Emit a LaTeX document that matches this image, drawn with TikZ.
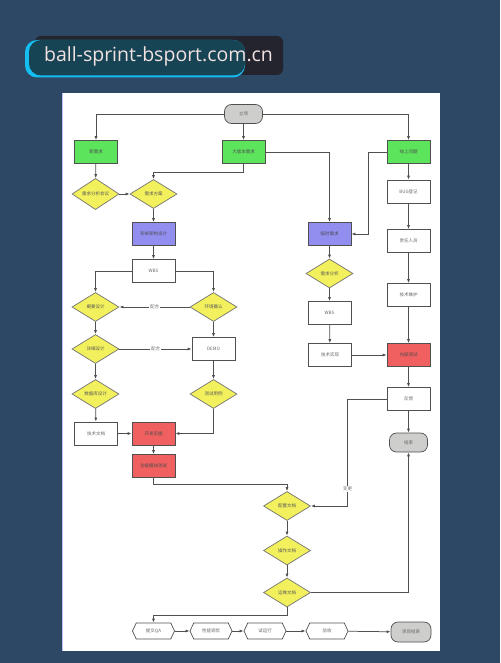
\documentclass[tikz,border=0pt]{standalone}
\usepackage{fontspec}
\usepackage{tikz}
\usetikzlibrary{calc}
\usetikzlibrary{shapes.geometric}
\usetikzlibrary{shapes.symbols}
\usetikzlibrary{arrows.meta}
\newfontfamily\cjk{Noto Sans CJK SC}
\newfontfamily\webfont{Open Sans}

\definecolor{bgblue}{RGB}{44,72,101}
\definecolor{bannerdark}{RGB}{36,36,46}
\definecolor{capsule}{RGB}{22,68,84}
\definecolor{capsuleedge}{RGB}{20,190,240}
\definecolor{webtext}{RGB}{242,226,226}
\definecolor{boxgreen}{RGB}{92,228,92}
\definecolor{boxblue}{RGB}{146,142,240}
\definecolor{boxred}{RGB}{240,96,96}
\definecolor{boxyellow}{RGB}{242,240,92}
\definecolor{boxgray}{RGB}{206,206,204}
\definecolor{linegray}{RGB}{80,80,80}

\tikzset{
	base/.style = {draw = linegray, line width = 0.7pt, inner sep = 0pt,
		font = \cjk\fontsize{4.5}{5}\selectfont, text = black!60},
	task/.style = {base, rectangle, fill = white, minimum width = 43pt, minimum height = 23pt},
	greenbox/.style = {task, fill = boxgreen, text = black!70},
	bluebox/.style = {task, fill = boxblue, text = black!70},
	redbox/.style = {task, fill = boxred, text = black!70},
	check/.style = {base, diamond, fill = boxyellow, draw = black!55, text = black!65,
		minimum width = 47pt, minimum height = 29pt},
	term/.style = {base, rectangle, rounded corners = 7pt, fill = boxgray,
		minimum width = 38pt, minimum height = 19pt},
	phase/.style = {base, signal, signal to = west and east, signal pointer angle = 130,
		fill = white, minimum width = 42pt, minimum height = 16pt},
	arr/.style = {draw = linegray, line width = 0.75pt, -{Latex[length = 4pt, width = 3pt]}},
	lbl/.style = {fill = white, inner sep = 1pt, text = black!55,
		font = \cjk\fontsize{4.5}{5}\selectfont}
}

\begin{document}
\begin{tikzpicture}[x = 1pt, y = -1pt]
	% background, page and banner
	\useasboundingbox (0, 0) rectangle (500, 663);
	\fill[bgblue] (0, 0) rectangle (500, 663);
	\fill[white] (62, 93) rectangle (440, 651);
	\draw[blue!25, line width = 0.8pt] (62.4, 93) -- (62.4, 651);
	\fill[bannerdark, rounded corners = 6pt] (35, 36) rectangle (283, 75);
	\fill[capsuleedge, rounded corners = 12pt] (25, 40) rectangle (245, 77.5);
	\fill[capsule, rounded corners = 12pt] (29, 40) rectangle (245, 75.5);
	\node[text = webtext, font = \webfont\fontsize{19.5}{22}\selectfont, inner sep = 0pt]
		(site) at (158.5, 56) {ball-sprint-bsport.com.cn};

	% top row
	\node[term] (start) at (243.5, 114) {立项};
	\node[greenbox] (newreq) at (96, 152) {新需求};
	\node[greenbox] (bigver) at (243.5, 152) {大版本需求};
	\node[greenbox] (online) at (408.5, 152) {线上问题};

	% left column
	\node[check] (reqmeet) at (95.5, 194) {需求分析会议};
	\node[check] (reqplan) at (153.5, 194) {需求方案};
	\node[bluebox] (arch) at (153.5, 234) {系统架构设计};
	\node[task] (wbsa) at (153.5, 271) {WBS};
	\node[check] (outline) at (95.5, 307) {概要设计};
	\node[check] (envchk) at (213.5, 307) {环境确认};
	\node[check] (detail) at (95.5, 349) {详细设计};
	\node[task] (demo) at (213.5, 349) {DEMO};
	\node[check] (dbdes) at (95.5, 394) {数据库设计};
	\node[check] (tcase) at (213.5, 394) {测试用例};
	\node[task] (techdoc) at (96, 433.5) {技术文档};
	\node[redbox] (devimp) at (153.5, 433.5) {开发实施};
	\node[redbox] (modtest) at (153.5, 466) {功能模块测试};

	% middle column
	\node[bluebox] (tmpreq) at (329.5, 234) {临时需求};
	\node[check] (reqana) at (329.5, 273.5) {需求分析};
	\node[task] (wbsb) at (329.5, 313) {WBS};
	\node[task] (techimp) at (330, 355) {技术实现};

	% right column
	\node[task] (bugreg) at (408.5, 191.5) {BUG登记};
	\node[task] (owner) at (408.5, 241) {责任人员};
	\node[task] (maint) at (408.5, 295) {技术维护};
	\node[redbox] (inner) at (408.5, 355) {内部测试};
	\node[task] (feedback) at (408.5, 399) {反馈};
	\node[term] (finish) at (408.5, 442.5) {结束};

	% documents
	\node[check] (cfgdoc) at (287, 506) {配置文档};
	\node[check] (opdoc) at (287, 550.5) {操作文档};
	\node[check] (mtdoc) at (287, 592.5) {运维文档};

	% bottom row
	\node[phase] (qa) at (153.5, 631) {提交QA};
	\node[phase] (tune) at (211, 631) {性能调优};
	\node[phase] (trial) at (265, 631) {试运行};
	\node[phase] (accept) at (327, 631) {验收};
	\node[term, minimum width = 40pt, minimum height = 20pt] (close) at (411, 632) {项目结束};

	% connectors from the start
	\draw[arr] (start.west) -| (newreq.north);
	\draw[arr] (start.south) -- (bigver.north);
	\draw[arr] (start.east) -| (online.north);

	% left branch
	\draw[arr] (newreq) -- (reqmeet);
	\draw[arr] (reqmeet) -- (reqplan);
	\draw[arr] (bigver.south) -- ++(0, 9) -| (reqplan.north);
	\draw[arr] (reqplan) -- (arch);
	\draw[arr] (arch) -- (wbsa);
	\draw[arr] (wbsa.west) -| (outline.north);
	\draw[arr] (wbsa.east) -| (envchk.north);
	\draw[arr] (envchk.west) -- node[lbl] {配合} (outline.east);
	\draw[arr] (outline) -- (detail);
	\draw[arr] (detail.east) -- node[lbl] {配合} (demo.west);
	\draw[arr] (envchk) -- (demo);
	\draw[arr] (detail) -- (dbdes);
	\draw[arr] (demo) -- (tcase);
	\draw[arr] (dbdes) -- (techdoc);
	\draw[arr] (techdoc) -- (devimp);
	\draw[arr] (tcase.south) |- (devimp.east);
	\draw[arr] (devimp) -- (modtest);
	\draw[arr] (modtest.south) -- ++(0, 7) -| (cfgdoc.north);

	% middle branch
	\draw[arr] (bigver.east) -| (tmpreq.north);
	\draw[arr] (online.west) -- ++(-18, 0) |- (tmpreq.east);
	\draw[arr] (tmpreq) -- (reqana);
	\draw[arr] (reqana) -- (wbsb);
	\draw[arr] (wbsb) -- (techimp);
	\draw[arr] (techimp) -- (inner);

	% right branch
	\draw[arr] (online) -- (bugreg);
	\draw[arr] (bugreg) -- (owner);
	\draw[arr] (owner) -- (maint);
	\draw[arr] (maint) -- (inner);
	\draw[arr] (inner) -- (feedback);
	\draw[arr] (feedback) -- (finish);
	\draw[arr] (feedback.west) -- ++(-39, 0) |- node[lbl, pos = 0.42] {变更} (cfgdoc.east);

	% documents and delivery
	\draw[arr] (cfgdoc) -- (opdoc);
	\draw[arr] (opdoc) -- (mtdoc);
	\draw[arr] (mtdoc.east) -| (finish.south);
	\draw[arr] (mtdoc.south) -- ++(0, 8) -| (qa.north);
	\draw[arr] (qa) -- (tune);
	\draw[arr] (tune) -- (trial);
	\draw[arr] (trial) -- (accept);
	\draw[arr] (accept) -- (close);
\end{tikzpicture}
\end{document}
